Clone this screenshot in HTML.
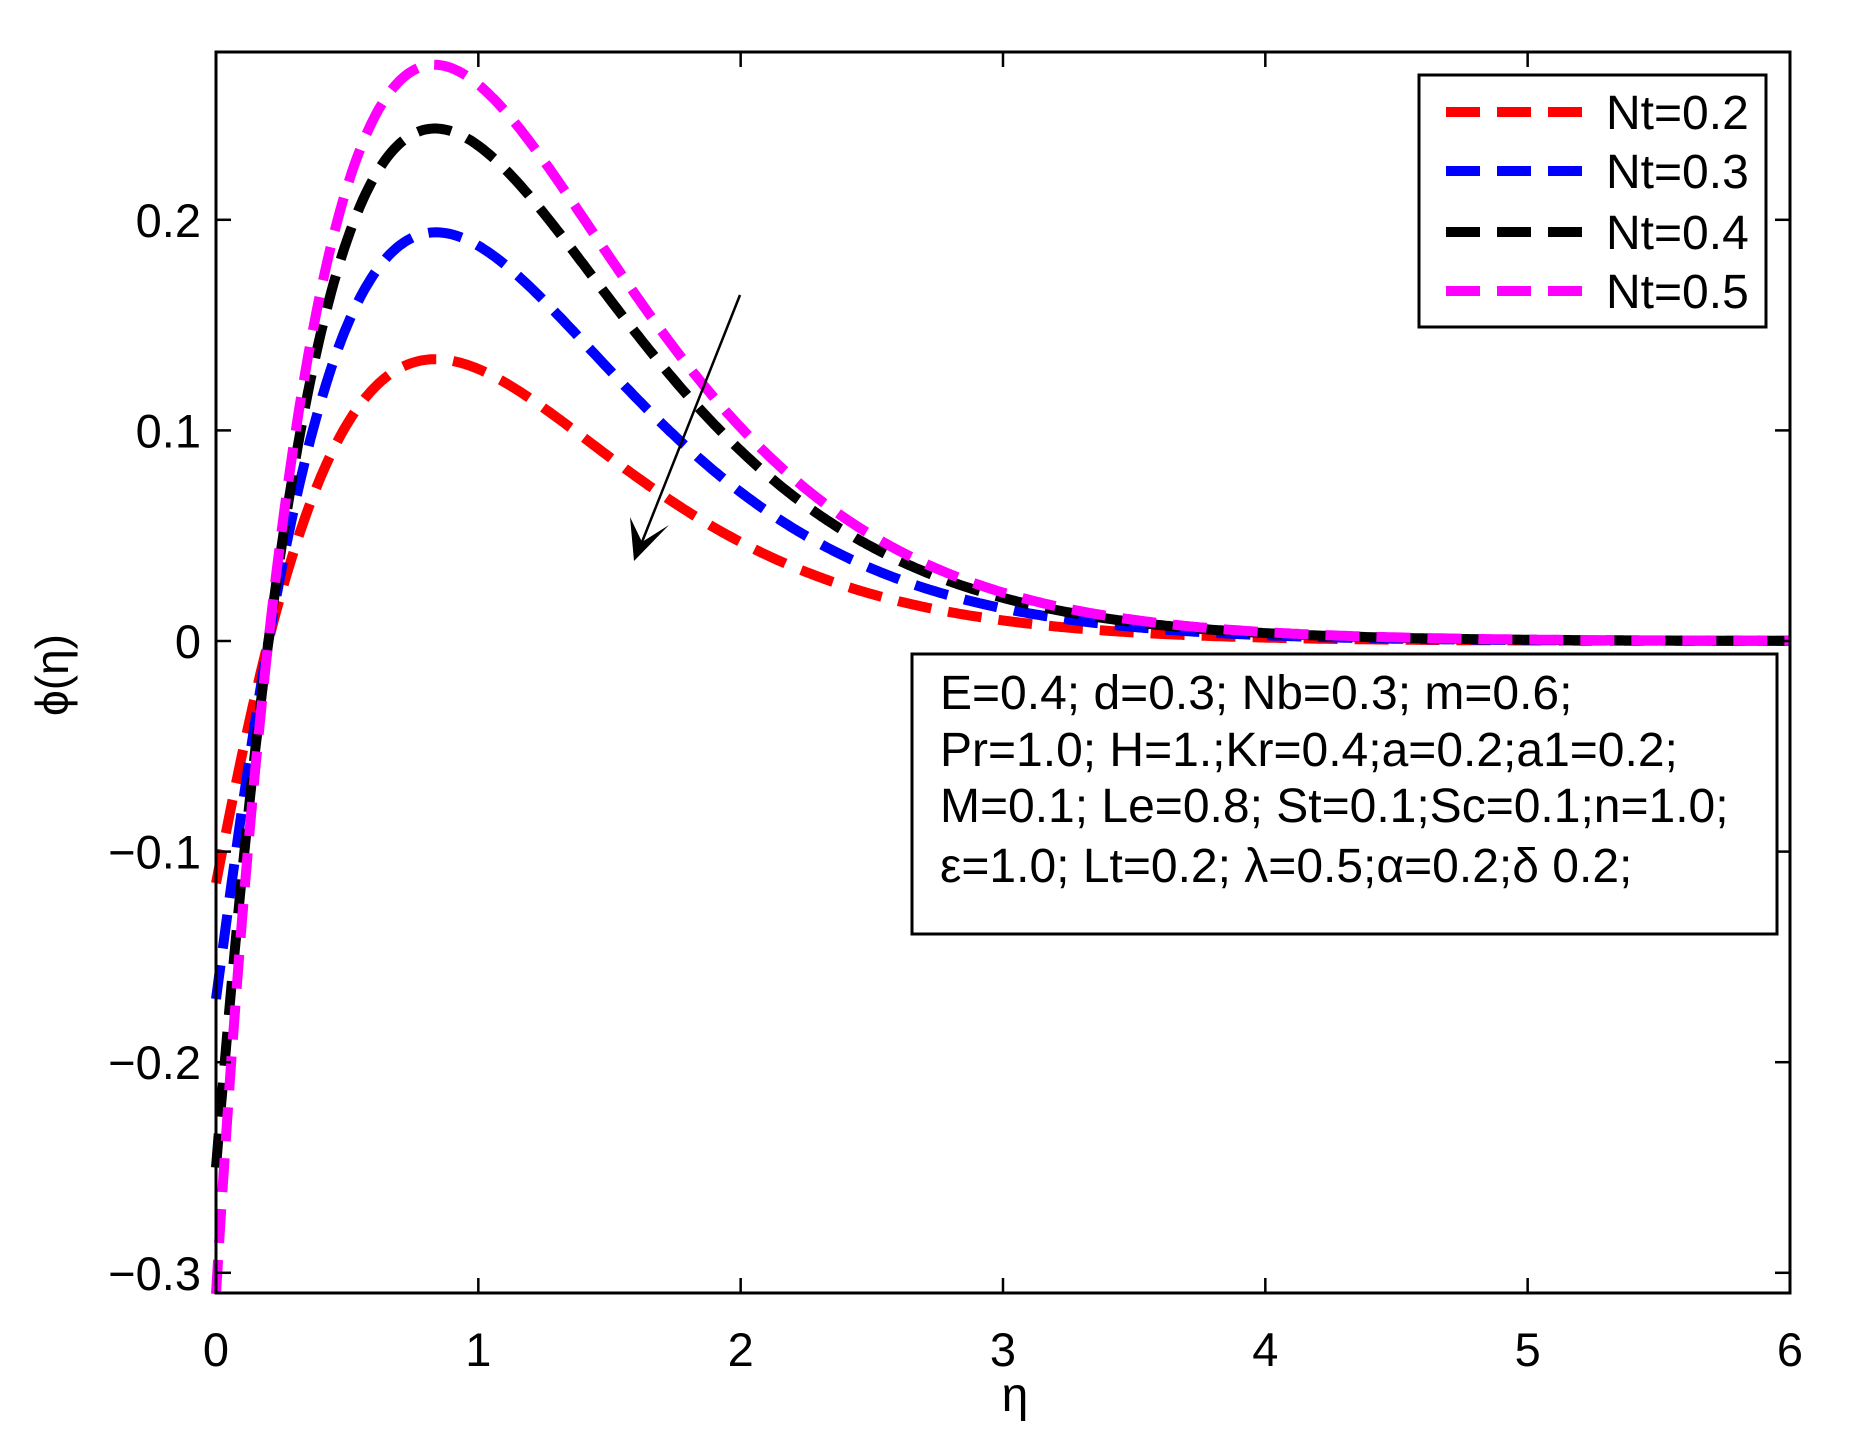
<!DOCTYPE html>
<html><head><meta charset="utf-8"><style>
html,body{margin:0;padding:0;background:#fff;}
svg{display:block;font-family:"Liberation Sans",sans-serif;}
</style></head><body>
<svg id="s" width="1855" height="1452" viewBox="0 0 1855 1452" xmlns="http://www.w3.org/2000/svg">
<rect width="1855" height="1452" fill="#fff"/>
<g id="curves"></g>
<rect x="216" y="52" width="1574" height="1241" fill="none" stroke="#000" stroke-width="3"/>
<g id="ticks" stroke="#000" stroke-width="2.5"></g>
<g font-size="47" fill="#000" id="labels"></g>
<text x="1015" y="1411" font-size="48" text-anchor="middle">η</text>
<text transform="translate(68,675) rotate(-90)" font-size="46" text-anchor="middle">ϕ(η)</text>
<line x1="740" y1="295" x2="642" y2="542" stroke="#000" stroke-width="2.5"/>
<polygon points="634,561 630,517 642,542 669,525" fill="#000"/>
<rect x="1419" y="75" width="347" height="252" fill="#fff" stroke="#000" stroke-width="3"/>
<g stroke-width="10" stroke-dasharray="34,17">
<line x1="1446" y1="112" x2="1586" y2="112" stroke="#ff0000"/>
<line x1="1446" y1="171" x2="1586" y2="171" stroke="#0000ff"/>
<line x1="1446" y1="232" x2="1586" y2="232" stroke="#000"/>
<line x1="1446" y1="291" x2="1586" y2="291" stroke="#ff00ff"/>
</g>
<g font-size="48">
<text x="1606" y="129">Nt=0.2</text>
<text x="1606" y="188">Nt=0.3</text>
<text x="1606" y="249">Nt=0.4</text>
<text x="1606" y="308">Nt=0.5</text>
</g>
<rect x="912" y="654" width="865" height="280" fill="#fff" stroke="#000" stroke-width="3"/>
<g font-size="48">
<text x="940" y="709">E=0.4; d=0.3; Nb=0.3; m=0.6;</text>
<text x="940" y="766">Pr=1.0; H=1.;Kr=0.4;a=0.2;a1=0.2;</text>
<text x="940" y="822">M=0.1; Le=0.8; St=0.1;Sc=0.1;n=1.0;</text>
<text x="940" y="882">ε=1.0; Lt=0.2; λ=0.5;α=0.2;δ 0.2;</text>
</g>
</svg>
<script>
var NS="http://www.w3.org/2000/svg";
function X(v){return 216+v*262.33;}
function Y(v){return 641-v*2106;}
function el(n,a,p,t){var e=document.createElementNS(NS,n);for(var k in a)e.setAttribute(k,a[k]);if(t)e.textContent=t;p.appendChild(e);return e;}
var tk=document.getElementById("ticks"),lb=document.getElementById("labels");
for(var i=0;i<=6;i++){var x=X(i);el("line",{x1:x,y1:1293,x2:x,y2:1278},tk);el("line",{x1:x,y1:52,x2:x,y2:67},tk);
el("text",{x:x,y:1366,"text-anchor":"middle"},lb,""+i);}
var yt=[0.2,0.1,0,-0.1,-0.2,-0.3],ys=["0.2","0.1","0","\u22120.1","\u22120.2","\u22120.3"];
for(var j=0;j<yt.length;j++){var y=Y(yt[j]);el("line",{x1:216,y1:y,x2:231,y2:y},tk);el("line",{x1:1790,y1:y,x2:1775,y2:y},tk);
el("text",{x:201,y:y+17,"text-anchor":"end"},lb,ys[j]);}
var cs=[["#ff0000",-0.115,0.135,0.425],["#0000ff",-0.17,0.196,0.44],["#000000",-0.25,0.245,0.45],["#ff00ff",-0.31,0.275,0.45]];
var g=document.getElementById("curves");
cs.forEach(function(c){var f0=c[1],P=c[2],tau=c[3],pk=0.82,p=pk/tau;
function gf(t){if(t<=0)return 0;return Math.pow(t/pk,p)*Math.exp(p*(1-t/pk));}
var k=-Math.log(-P*gf(0.2)/f0)/0.2;
var d="";for(var n=0;n<=600;n++){var t=n*0.01;var v=f0*Math.exp(-k*t)+P*gf(t);d+=(n?"L":"M")+X(t).toFixed(1)+","+Y(v).toFixed(1);}
el("path",{d:d,fill:"none",stroke:c[0],"stroke-width":10,"stroke-dasharray":"34,17"},g);});
</script>
</body></html>
